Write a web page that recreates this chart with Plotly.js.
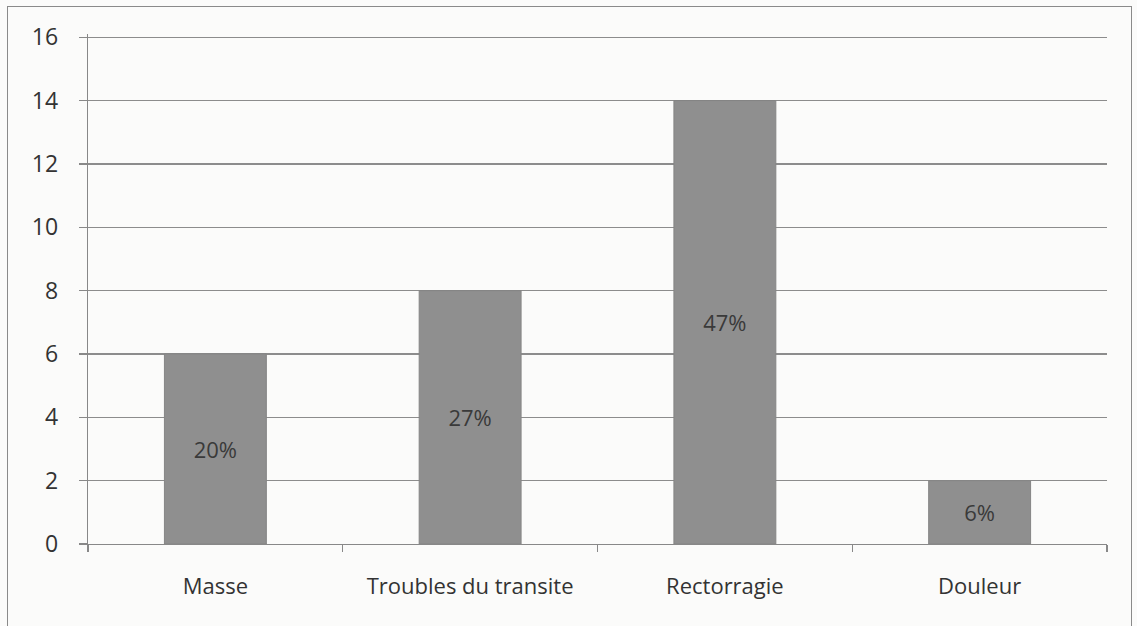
<!DOCTYPE html>
<html>
<head>
<meta charset="utf-8">
<script src="https://cdn.plot.ly/plotly-3.0.1.min.js"></script>
<style>
html,body{margin:0;padding:0;background:#fbfbfa;}
#chart{width:1137px;height:626px;}
#frame{position:absolute;left:7px;top:6px;width:1123px;height:660px;border:1.5px solid #8a8a8a;pointer-events:none;}
</style>
</head>
<body>
<div id="chart"></div>
<div id="frame"></div>
<script>
const categories = ["Masse", "Troubles du transite", "Rectorragie", "Douleur"];
const counts = [6, 8, 14, 2];
const percentLabels = ["20%", "27%", "47%", "6%"];
const yTicks = [0, 2, 4, 6, 8, 10, 12, 14, 16];

const trace = {
  type: "bar",
  x: categories,
  y: counts,
  text: percentLabels,
  textposition: "inside",
  insidetextanchor: "middle",
  textfont: {family: "'Open Sans', sans-serif", size: 22, color: "#3a3a3a"},
  marker: {color: "#8f8f8f", line: {color: "#858585", width: 1}},
  hoverinfo: "skip"
};

const layout = {
  width: 1137, height: 626,
  margin: {l: 88, r: 30, t: 34, b: 82},
  paper_bgcolor: "rgba(0,0,0,0)",
  plot_bgcolor: "rgba(0,0,0,0)",
  bargap: 0.6,
  showlegend: false,
  font: {family: "'Open Sans', sans-serif", size: 22, color: "#333"},
  xaxis: {
    type: "category",
    tickson: "boundaries",
    ticks: "outside", ticklen: 7, tickcolor: "#888", tickwidth: 1.3,
    showline: true, linecolor: "#888", linewidth: 1.3,
    showgrid: false,
    tickfont: {size: 22, color: "#333"},
    ticklabelstandoff: 22
  },
  yaxis: {
    range: [0, 16.1],
    tickvals: yTicks,
    ticks: "outside", ticklen: 8, tickcolor: "#888", tickwidth: 1.3,
    showline: true, linecolor: "#888", linewidth: 1.3,
    showgrid: true, gridcolor: "#8c8c8c", gridwidth: 1.3,
    zeroline: false,
    tickfont: {size: 23, color: "#333"},
    ticklabelstandoff: 16
  }
};

Plotly.newPlot("chart", [trace], layout, {displayModeBar: false, staticPlot: true});
</script>
</body>
</html>
